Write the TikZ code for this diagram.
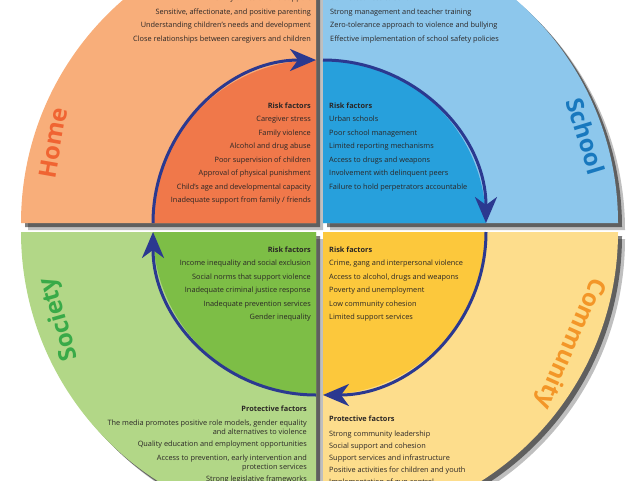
\documentclass[tikz,border=0pt]{standalone}
\usepackage{fontspec}
\setmainfont{Open Sans}
\usetikzlibrary{arrows.meta}
\definecolor{homeO}{HTML}{F8AE7A}
\definecolor{homeI}{HTML}{F0784A}
\definecolor{schoolO}{HTML}{8DC7EC}
\definecolor{schoolI}{HTML}{27A0DC}
\definecolor{commO}{HTML}{FDDD8C}
\definecolor{commI}{HTML}{FCC83C}
\definecolor{socO}{HTML}{B2D787}
\definecolor{socI}{HTML}{7DBE46}
\definecolor{homeL}{HTML}{F06432}
\definecolor{schoolL}{HTML}{1878BE}
\definecolor{commL}{HTML}{F39628}
\definecolor{socL}{HTML}{39AA48}
\definecolor{arrowc}{HTML}{2B3990}
\definecolor{txtc}{HTML}{2A2626}
\begin{document}
\begin{tikzpicture}[x=1pt,y=1pt,
  txt/.style={inner sep=0pt, font=\fontsize{7.35}{8}\selectfont, text=txtc},
  txtR/.style={txt, anchor=base east},
  txtL/.style={txt, anchor=base west},
  hdR/.style={txtR, font=\fontsize{7.35}{8}\selectfont\bfseries},
  hdL/.style={txtL, font=\fontsize{7.35}{8}\selectfont\bfseries},
  flow/.style={draw=arrowc, line width=3pt, -{Stealth[length=26pt,width=22pt,inset=8pt]}},
  lbl/.style={font=\fontsize{24}{26}\selectfont\bfseries, inner sep=0pt}
]
\useasboundingbox (0,0) rectangle (640,-480);
\def\R{295}
\def\r{163}
% shadows
\foreach \cx/\cy/\a in {316/-223/90, 323/-223/0, 323/-232/-90, 316/-232/180} {
  \fill[black, opacity=.25] (\cx+7,\cy-7) -- ++(\a:\R) arc[start angle=\a, end angle=\a+90, radius=\R] -- cycle;
  \fill[black, opacity=.5] (\cx+4,\cy-4) -- ++(\a:\R) arc[start angle=\a, end angle=\a+90, radius=\R] -- cycle;
}
% quadrants
\foreach \cx/\cy/\a/\co/\ci in {316/-223/90/homeO/homeI, 323/-223/0/schoolO/schoolI, 323/-232/-90/commO/commI, 316/-232/180/socO/socI} {
  \fill[\co] (\cx,\cy) -- ++(\a:\R) arc[start angle=\a, end angle=\a+90, radius=\R] -- cycle;
  \fill[\ci] (\cx,\cy) -- ++(\a:\r) arc[start angle=\a, end angle=\a+90, radius=\r] -- cycle;
}
% arrows
\coordinate (hs) at (153,-223);
\coordinate (ss) at (323,-60);
\coordinate (cs) at (486,-232);
\coordinate (os) at (316,-395);
\draw[flow] (hs) arc[start angle=180, end angle=90, radius=\r];
\draw[flow] (ss) arc[start angle=90, end angle=0, radius=\r];
\draw[flow] (cs) arc[start angle=0, end angle=-90, radius=\r];
\draw[flow] (os) arc[start angle=270, end angle=180, radius=\r];
% labels
\node[lbl, text=homeL, rotate=80] (home) at (53,-143) {Home};
\node[lbl, text=schoolL, rotate=-73] (school) at (586,-136) {School};
\node[lbl, text=commL, rotate=-114] (comm) at (570,-343) {Community};
\node[lbl, text=socL, rotate=106] (soc) at (60,-319) {Society};
% Home
\foreach \t [count=\i] in {Family cohesion and support, {Sensitive, affectionate, and positive parenting}, Understanding children’s needs and development, Close relationships between caregivers and children}
  \node[txtR] (hp\i) at (311,{-0.5-13.5*(\i-1)}) {\t};
\node[hdR] (hrh) at (311,-108) {Risk factors};
\foreach \t [count=\i] in {Caregiver stress, Family violence, Alcohol and drug abuse, Poor supervision of children, Approval of physical punishment, Child’s age and developmental capacity, Inadequate support from family / friends}
  \node[txtR] (hr\i) at (311,{-121.5-13.5*(\i-1)}) {\t};
% School
\foreach \t [count=\i] in {Connectedness to school, Strong management and teacher training, Zero-tolerance approach to violence and bullying, Effective implementation of school safety policies}
  \node[txtL] (sp\i) at (330,{-0.5-13.5*(\i-1)}) {\t};
\node[hdL] (srh) at (329,-108) {Risk factors};
\foreach \t [count=\i] in {Urban schools, Poor school management, Limited reporting mechanisms, Access to drugs and weapons, Involvement with delinquent peers, Failure to hold perpetrators accountable}
  \node[txtL] (sr\i) at (329,{-121.5-13.5*(\i-1)}) {\t};
% Society
\node[hdR] (orh) at (311,-252) {Risk factors};
\foreach \t [count=\i] in {Income inequality and social exclusion, Social norms that support violence, Inadequate criminal justice response, Inadequate prevention services, Gender inequality}
  \node[txtR] (or\i) at (311,{-265.5-13.5*(\i-1)}) {\t};
\node[hdR] (oph) at (307,-411) {Protective factors};
\node[txtR] (op1) at (307,-425) {The media promotes positive role models, gender equality};
\node[txtR] (op1b) at (307,-434) {and alternatives to violence};
\node[txtR] (op2) at (307,-446) {Quality education and employment opportunities};
\node[txtR] (op3) at (307,-460) {Access to prevention, early intervention and};
\node[txtR] (op3b) at (307,-469) {protection services};
\node[txtR] (op4) at (307,-481) {Strong legislative frameworks};
% Community
\node[hdL] (crh) at (329,-252) {Risk factors};
\foreach \t [count=\i] in {{Crime, gang and interpersonal violence}, {Access to alcohol, drugs and weapons}, Poverty and unemployment, Low community cohesion, Limited support services}
  \node[txtL] (cr\i) at (329,{-265.5-13.5*(\i-1)}) {\t};
\node[hdL] (cph) at (329,-421) {Protective factors};
\foreach \t [count=\i] in {Strong community leadership, Social support and cohesion, Support services and infrastructure, Positive activities for children and youth, Implementation of gun control}
  \node[txtL] (cp\i) at (329,{-436-12*(\i-1)}) {\t};
\end{tikzpicture}
\end{document}
